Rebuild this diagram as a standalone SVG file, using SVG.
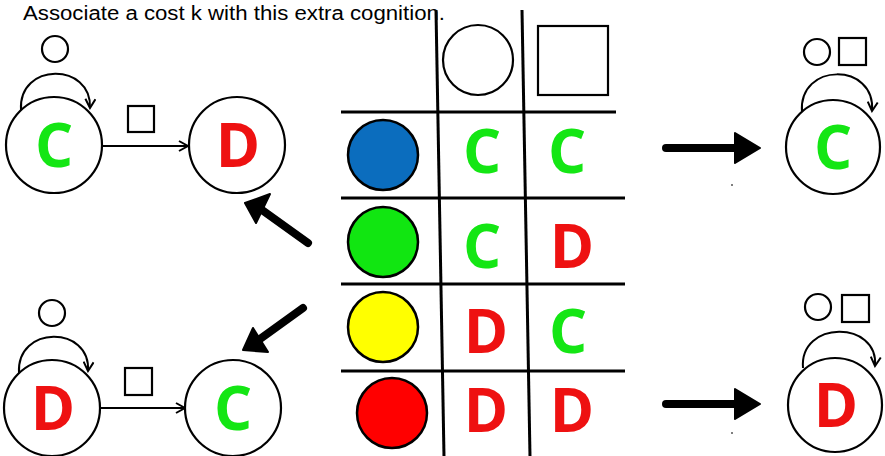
<svg xmlns="http://www.w3.org/2000/svg" width="885" height="456" viewBox="0 0 885 456">
<style>
.node{fill:#fff;stroke:#000;stroke-width:2.2}
.sym{fill:none;stroke:#000;stroke-width:2.2}
.edge{fill:none;stroke:#000;stroke-width:2}
.grid{stroke:#000;stroke-width:3;fill:none}
.big{stroke:#000;stroke-width:8;stroke-linecap:round;fill:none}
.head{fill:#000;stroke:#000;stroke-width:2;stroke-linejoin:round}
.L{font-family:"Open Sans","Liberation Sans",sans-serif;font-weight:bold;font-size:60px;text-anchor:middle}
.g{fill:#14E614}
.r{fill:#EE1111}
.title{font-family:"Liberation Sans",sans-serif;font-size:20px;fill:#000}
</style>
<defs>
<marker id="chev" viewBox="0 0 12 12" refX="10" refY="6" markerWidth="12" markerHeight="12" markerUnits="userSpaceOnUse" orient="auto">
<path d="M1,1 L10,6 L1,11" fill="none" stroke="#000" stroke-width="2"/>
</marker>
</defs>
<text class="title" x="23" y="20" textLength="422" lengthAdjust="spacingAndGlyphs">Associate a cost k with this extra cognition.</text>

<g id="connectors">
<path class="edge" d="M21,110 C18,62 92,62 90,108" marker-end="url(#chev)"/>
<line class="edge" x1="102" y1="146" x2="188" y2="146" marker-end="url(#chev)"/>
<path class="edge" d="M19,373 C16,325 91,325 88,371" marker-end="url(#chev)"/>
<line class="edge" x1="100" y1="408" x2="185" y2="408" marker-end="url(#chev)"/>
<path class="edge" d="M802,112 C798,62 876,62 872,111" marker-end="url(#chev)"/>
<path class="edge" d="M803,368 C799,320 879,320 875,366" marker-end="url(#chev)"/>
<line class="big" x1="308" y1="243" x2="262" y2="210"/>
<polygon class="head" points="245,203 270,194 256,223"/>
<line class="big" x1="303" y1="308" x2="260" y2="339"/>
<polygon class="head" points="243,350 253,328 268,352"/>
<line class="big" x1="666" y1="148" x2="740" y2="148"/>
<polygon class="head" points="735,133 760,148 735,163"/>
<line class="big" x1="666" y1="404" x2="740" y2="404"/>
<polygon class="head" points="735,389 760,404 735,419"/>
</g>

<g id="node-tl-C">
<circle class="node" cx="54" cy="145" r="48"/>
<text class="L g" x="54" y="167">C</text>
<circle class="sym" cx="55" cy="49" r="13"/>
</g>
<g id="node-tl-D">
<circle class="node" cx="237" cy="145" r="48"/>
<text class="L r" x="238" y="167">D</text>
<rect class="sym" x="128" y="106" width="26" height="26"/>
</g>
<g id="node-bl-D">
<circle class="node" cx="52" cy="408" r="48"/>
<text class="L r" x="53" y="430">D</text>
<circle class="sym" cx="52" cy="313" r="13"/>
</g>
<g id="node-bl-C">
<circle class="node" cx="233" cy="408" r="48"/>
<text class="L g" x="233" y="430">C</text>
<rect class="sym" x="125" y="368" width="27" height="27"/>
</g>
<g id="node-r-C">
<circle class="node" cx="833" cy="147" r="47"/>
<text class="L g" x="833" y="169">C</text>
<circle class="sym" cx="817" cy="52" r="13"/>
<rect class="sym" x="839" y="38" width="27" height="27"/>
</g>
<g id="node-r-D">
<circle class="node" cx="835" cy="405" r="47"/>
<text class="L r" x="836" y="427">D</text>
<circle class="sym" cx="818" cy="307" r="13"/>
<rect class="sym" x="842" y="295" width="27" height="27"/>
</g>

<g id="table">
<line class="grid" x1="436" y1="10" x2="444" y2="456"/>
<line class="grid" x1="522" y1="10" x2="530" y2="456"/>
<line class="grid" x1="341" y1="112" x2="616" y2="112"/>
<line class="grid" x1="341" y1="198" x2="625" y2="198"/>
<line class="grid" x1="341" y1="284" x2="625" y2="284"/>
<line class="grid" x1="341" y1="371" x2="625" y2="371"/>
<circle class="sym" cx="478" cy="60" r="35" stroke-width="2.5"/>
<rect class="sym" x="538" y="26" width="70" height="69" stroke-width="2.5"/>
<circle cx="383" cy="155" r="35" fill="#0B6DBE" stroke="#000" stroke-width="2.5"/>
<circle cx="383" cy="242" r="35" fill="#11E611" stroke="#000" stroke-width="2.5"/>
<circle cx="383" cy="327" r="35" fill="#FFFF00" stroke="#000" stroke-width="2.5"/>
<circle cx="392" cy="413" r="35" fill="#FF0000" stroke="#000" stroke-width="2.5"/>
<text class="L g" x="482" y="173">C</text>
<text class="L g" x="567" y="173">C</text>
<text class="L g" x="482" y="268">C</text>
<text class="L r" x="572" y="268">D</text>
<text class="L r" x="486" y="353">D</text>
<text class="L g" x="568" y="353">C</text>
<text class="L r" x="486" y="432">D</text>
<text class="L r" x="572" y="432">D</text>
</g>
<circle cx="732" cy="185" r="1" fill="#555"/>
<circle cx="732" cy="433" r="1" fill="#555"/>
</svg>
